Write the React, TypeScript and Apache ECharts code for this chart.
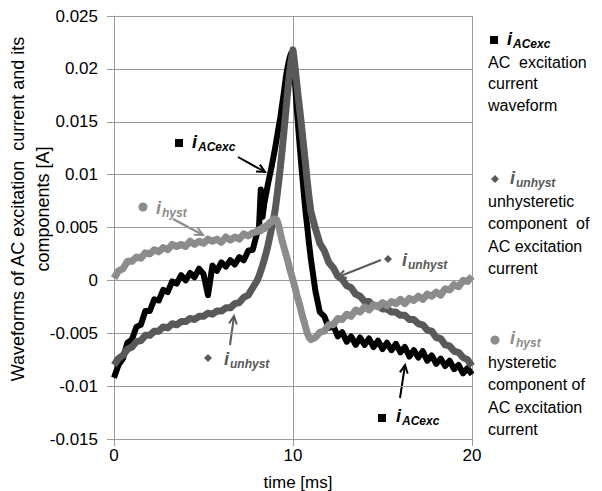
import React, { useEffect, useRef } from "react";
import * as echarts from "echarts";

// Sample instants [ms] (denser around the current peak)
const timeMs = [
  0, 0.25, 0.5, 0.75, 1, 1.25, 1.5, 1.75, 2, 2.25, 2.5, 2.75, 3, 3.25, 3.5, 3.75, 4, 4.25, 4.5, 4.75,
  5, 5.25, 5.5, 5.75, 6, 6.25, 6.5, 6.75, 7, 7.25, 7.5, 7.75, 8,
  8.1, 8.2, 8.3, 8.4, 8.5, 8.6, 8.7, 8.8, 8.9, 9, 9.1, 9.2, 9.3, 9.4, 9.5, 9.6, 9.7, 9.8, 9.9,
  10, 10.1, 10.2, 10.3, 10.4, 10.5, 10.6, 10.7, 10.8, 10.9, 11,
  11.25, 11.5, 11.75, 12, 12.25, 12.5, 12.75, 13, 13.25, 13.5, 13.75, 14, 14.25, 14.5, 14.75, 15,
  15.25, 15.5, 15.75, 16, 16.25, 16.5, 16.75, 17, 17.25, 17.5, 17.75, 18, 18.25, 18.5, 18.75, 19,
  19.25, 19.5, 19.75, 20,
];

// AC excitation current i_ACexc [A]
const iACexc = [
  -0.0092, -0.008, -0.0074, -0.0059, -0.0056, -0.0044, -0.0042, -0.0029, -0.0029, -0.0018, -0.0019,
  -0.0009, -0.0011, -0.0001, -0.0003, 0.0005, 0.0, 0.0007, 0.0003, 0.0011, 0.0006, -0.0014, 0.0014,
  0.0009, 0.0017, 0.0013, 0.0019, 0.0015, 0.0022, 0.0019, 0.0028, 0.0029, 0.0045,
  0.005, 0.0086, 0.006, 0.0073, 0.0082, 0.0091, 0.0099, 0.0107, 0.0116, 0.0125, 0.0135, 0.0145,
  0.0155, 0.0167, 0.0179, 0.0192, 0.0202, 0.021, 0.0215, 0.0211, 0.019, 0.0165, 0.0143, 0.0122,
  0.0102, 0.0083, 0.0065, 0.005, 0.0034, 0.002,
  -0.001, -0.003, -0.0034, -0.0045, -0.0043, -0.0053, -0.0049, -0.0058, -0.0053, -0.0061, -0.0054,
  -0.0061, -0.0055, -0.0063, -0.0057, -0.0065, -0.0059, -0.0066, -0.006, -0.0068, -0.0063, -0.0072,
  -0.0066, -0.0073, -0.0067, -0.0076, -0.0071, -0.0079, -0.0074, -0.0081, -0.0076, -0.0084, -0.008,
  -0.0088, -0.0083, -0.0089,
];

// Unhysteretic component i_unhyst [A]
const iUnhyst = [
  -0.008, -0.0074, -0.0071, -0.0065, -0.0063, -0.0058, -0.0057, -0.0052, -0.0052, -0.0048, -0.0048,
  -0.0044, -0.0045, -0.0041, -0.0042, -0.0039, -0.0039, -0.0036, -0.0037, -0.0034, -0.0034, -0.0031,
  -0.0032, -0.0029, -0.0029, -0.0026, -0.0026, -0.0022, -0.0021, -0.0016, -0.0014, -0.0007, 0.0,
  0.0004, 0.0009, 0.0014, 0.002, 0.0026, 0.0033, 0.0041, 0.0049, 0.0057, 0.0066, 0.0079, 0.0093,
  0.0108, 0.0124, 0.0142, 0.016, 0.0178, 0.0195, 0.0208, 0.0218, 0.0204, 0.0188, 0.0172, 0.0158,
  0.0142, 0.0126, 0.011, 0.0093, 0.0078, 0.0065,
  0.0049, 0.0035, 0.0028, 0.0017, 0.0012, 0.0004, 0.0001, -0.0005, -0.0007, -0.0013, -0.0015,
  -0.002, -0.002, -0.0024, -0.0024, -0.0027, -0.0027, -0.003, -0.003, -0.0033, -0.0033, -0.0037,
  -0.0037, -0.0041, -0.0042, -0.0047, -0.0048, -0.0054, -0.0055, -0.0061, -0.0062, -0.0067, -0.0068,
  -0.0073, -0.0075, -0.0081,
];

// Hysteretic component i_hyst [A]
const iHyst = [
  0.0002, 0.0009, 0.0011, 0.0018, 0.0018, 0.0022, 0.0021, 0.0026, 0.0025, 0.0029, 0.0027, 0.0031,
  0.0029, 0.0034, 0.0032, 0.0034, 0.0032, 0.0037, 0.0034, 0.0037, 0.0035, 0.0039, 0.0037, 0.0039,
  0.0036, 0.0041, 0.0038, 0.0041, 0.0039, 0.0044, 0.0042, 0.0045, 0.0046,
  0.0048, 0.0047, 0.005, 0.0049, 0.0052, 0.0052, 0.0055, 0.0055, 0.0058, 0.0058, 0.0057, 0.0052,
  0.0044, 0.0037, 0.0031, 0.0025, 0.0019, 0.0012, 0.0006, 0.0, -0.0006, -0.0013, -0.0019, -0.0025,
  -0.0032, -0.0038, -0.0044, -0.005, -0.0054, -0.0056,
  -0.0054, -0.0049, -0.0048, -0.0042, -0.0042, -0.0036, -0.0037, -0.0032, -0.0034, -0.0028, -0.003,
  -0.0025, -0.0028, -0.0023, -0.0025, -0.0021, -0.0024, -0.002, -0.0022, -0.0018, -0.0022, -0.0017,
  -0.0019, -0.0015, -0.0018, -0.0013, -0.0015, -0.0011, -0.0014, -0.0008, -0.0009, -0.0004, -0.0006,
  0.0, -0.0001, 0.0004,
];

// Axis ranges
const xRange = { min: 0, max: 20, step: 10 };
const yRange = { min: -0.015, max: 0.025, step: 0.005 };

const FONT = '"Liberation Sans", Arial, Helvetica, sans-serif';
const BLACK = "#000000";
const DARK = "#595959";
const LIGHT = "#8c8c8c";
const GRID = "#9a9a9a";

const pairs = (ys: number[]) => timeMs.map((t, i) => [t, ys[i]]);

function arrow(x1: number, y1: number, x2: number, y2: number, color: string, w: number) {
  const a = Math.atan2(y2 - y1, x2 - x1);
  const L = 9;
  const s = 0.45;
  const p1 = [x2 - L * Math.cos(a - s), y2 - L * Math.sin(a - s)];
  const p2 = [x2 - L * Math.cos(a + s), y2 - L * Math.sin(a + s)];
  return [
    { type: "line", shape: { x1, y1, x2, y2 }, style: { stroke: color, lineWidth: w }, silent: true },
    {
      type: "polyline",
      shape: { points: [p1, [x2, y2], p2] },
      style: { stroke: color, lineWidth: w, fill: null },
      silent: true,
    },
  ];
}

function marker(kind: string, cx: number, cy: number, color: string) {
  if (kind === "square") {
    return { type: "rect", shape: { x: cx - 4, y: cy - 4, width: 8, height: 8 }, style: { fill: color } };
  }
  if (kind === "diamond") {
    return {
      type: "polygon",
      shape: { points: [[cx, cy - 4], [cx + 4, cy], [cx, cy + 4], [cx - 4, cy]] },
      style: { fill: color },
    };
  }
  return { type: "circle", shape: { cx, cy, r: 4.5 }, style: { fill: color } };
}

// Symbol + italic "i" with a subscript, e.g. ■ i_ACexc
function symbolLabel(kind: string, mx: number, my: number, ix: number, iy: number, sub: string, color: string) {
  return [
    marker(kind, mx, my, color),
    {
      type: "text",
      x: ix,
      y: iy,
      style: {
        text: "i",
        fill: color,
        fontFamily: FONT,
        fontSize: 18,
        fontWeight: "bold",
        fontStyle: "italic",
        align: "left",
        verticalAlign: "middle",
      },
    },
    {
      type: "text",
      x: ix + 6,
      y: iy + 5,
      style: {
        text: sub,
        fill: color,
        fontFamily: FONT,
        fontSize: 12,
        fontWeight: "bold",
        fontStyle: "italic",
        align: "left",
        verticalAlign: "middle",
      },
    },
  ];
}

function plainLines(x: number, y0: number, dy: number, lines: string[]) {
  return lines.map((t, k) => ({
    type: "text",
    x,
    y: y0 + k * dy,
    style: {
      text: t,
      fill: BLACK,
      fontFamily: FONT,
      fontSize: 16,
      align: "left",
      verticalAlign: "middle",
    },
  }));
}

export default function App() {
  const ref = useRef<HTMLDivElement>(null);

  useEffect(() => {
    document.body.style.margin = "0";
    if (!ref.current) return;
    const chart = echarts.init(ref.current, undefined, { renderer: "svg" });

    const graphics: any[] = [
      // axis titles
      {
        type: "text",
        x: 18,
        y: 209,
        rotation: Math.PI / 2,
        style: {
          text: "Waveforms of AC excitation  current and its",
          fill: BLACK,
          fontFamily: FONT,
          fontSize: 18,
          align: "center",
          verticalAlign: "middle",
        },
      },
      {
        type: "text",
        x: 43,
        y: 209,
        rotation: Math.PI / 2,
        style: {
          text: "components [A]",
          fill: BLACK,
          fontFamily: FONT,
          fontSize: 18,
          align: "center",
          verticalAlign: "middle",
        },
      },
      {
        type: "text",
        x: 298,
        y: 482,
        style: {
          text: "time [ms]",
          fill: BLACK,
          fontFamily: FONT,
          fontSize: 17,
          align: "center",
          verticalAlign: "middle",
        },
      },
      // in-plot annotations
      ...symbolLabel("square", 179, 143, 192, 142, "ACexc", BLACK),
      ...arrow(238, 157, 265, 172, BLACK, 2),
      ...symbolLabel("circle", 143, 207, 156, 208, "hyst", LIGHT),
      ...arrow(173, 219, 203, 235, LIGHT, 2),
      ...symbolLabel("diamond", 208, 358, 224, 359, "unhyst", DARK),
      ...arrow(230, 345, 234, 316, DARK, 2),
      ...symbolLabel("diamond", 388, 259, 402, 260, "unhyst", DARK),
      ...arrow(381, 260, 338, 277, DARK, 2),
      ...symbolLabel("square", 382, 418, 396, 416, "ACexc", BLACK),
      ...arrow(400, 398, 405, 365, BLACK, 2),
      // side key
      ...symbolLabel("square", 494, 40, 507, 39, "ACexc", BLACK),
      ...plainLines(488, 62, 21.5, ["AC  excitation", "current", "waveform"]),
      ...symbolLabel("diamond", 495, 179, 510, 178, "unhyst", DARK),
      ...plainLines(488, 201, 22.5, ["unhysteretic", "component  of", "AC excitation", "current"]),
      ...symbolLabel("circle", 495, 340, 510, 338, "hyst", LIGHT),
      ...plainLines(488, 362, 22.5, ["hysteretic", "component of", "AC excitation", "current"]),
    ];

    chart.setOption({
      animation: false,
      backgroundColor: "#ffffff",
      grid: { left: 114, right: 130, top: 16, bottom: 52, outerBoundsMode: "none" },
      xAxis: {
        type: "value",
        min: xRange.min,
        max: xRange.max,
        interval: xRange.step,
        axisLine: { show: true, onZero: false, lineStyle: { color: GRID, width: 1 } },
        axisTick: { show: true, inside: false, length: 7, lineStyle: { color: GRID } },
        splitLine: { show: true, lineStyle: { color: GRID, width: 1 } },
        axisLabel: { color: BLACK, fontFamily: FONT, fontSize: 17, margin: 8 },
      },
      yAxis: {
        type: "value",
        min: yRange.min,
        max: yRange.max,
        interval: yRange.step,
        axisLine: { show: true, onZero: false, lineStyle: { color: GRID, width: 1 } },
        axisTick: { show: true, inside: false, length: 7, lineStyle: { color: GRID } },
        splitLine: { show: true, lineStyle: { color: GRID, width: 1 } },
        axisLabel: {
          color: BLACK,
          fontFamily: FONT,
          fontSize: 17,
          margin: 16,
          formatter: (v: number) => String(Math.round(v * 1000) / 1000),
        },
      },
      series: [
        {
          name: "i_ACexc",
          type: "line",
          data: pairs(iACexc),
          showSymbol: false,
          lineStyle: { color: BLACK, width: 6, join: "round" },
          z: 2,
        },
        {
          name: "i_unhyst",
          type: "line",
          data: pairs(iUnhyst),
          showSymbol: false,
          lineStyle: { color: DARK, width: 7, join: "round" },
          z: 3,
        },
        {
          name: "i_hyst",
          type: "line",
          data: pairs(iHyst),
          showSymbol: false,
          lineStyle: { color: LIGHT, width: 7, join: "round" },
          z: 4,
        },
      ],
      graphic: graphics,
    });

    return () => chart.dispose();
  }, []);

  return <div ref={ref} style={{ width: 602, height: 491 }} />;
}
